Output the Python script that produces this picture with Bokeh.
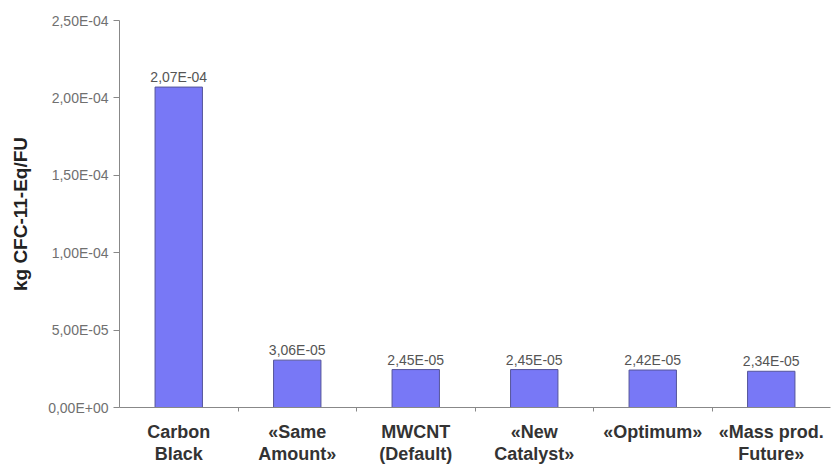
import numpy as np
from bokeh.plotting import figure
from bokeh.models import ColumnDataSource, Range1d, FixedTicker, LinearAxis
from bokeh.core.properties import value
from bokeh.embed import file_html
from bokeh.resources import INLINE

# ---- data ----
categories = ["Carbon\nBlack", "«Same\nAmount»", "MWCNT\n(Default)",
              "«New\nCatalyst»", "«Optimum»", "«Mass prod.\nFuture»"]
values = [2.07e-4, 3.06e-5, 2.45e-5, 2.45e-5, 2.42e-5, 2.34e-5]
y_ticks = [0.0, 5e-5, 1e-4, 1.5e-4, 2e-4, 2.5e-4]
y_label = "kg CFC-11-Eq/FU"


def fmt(v):
    return f"{v:.2E}".replace(".", ",")


FONT = "Liberation Sans"
xs = [i + 0.5 for i in range(len(categories))]
src = ColumnDataSource(dict(x=xs, top=values, label=[fmt(v) for v in values]))

p = figure(width=831, height=466, output_backend="svg", toolbar_location=None,
           x_range=Range1d(0, len(categories)), y_range=Range1d(0, y_ticks[-1]),
           min_border_left=119, min_border_right=1, min_border_top=20, min_border_bottom=58,
           x_axis_type=None, y_axis_type=None)
p.outline_line_color = None
p.background_fill_color = "white"
p.border_fill_color = "white"

p.vbar(x="x", top="top", width=0.4, source=src,
       fill_color="#7878F6", line_color="#55559A", line_width=1)
p.text(x="x", y="top", text="label", source=src, text_align="center",
       text_baseline="alphabetic", y_offset=-10,
       text_font=value(FONT), text_font_size="14px", text_color="#555555")

# y axis
yaxis = LinearAxis(ticker=FixedTicker(ticks=y_ticks, minor_ticks=[]))
yaxis.major_label_overrides = {t: fmt(t) for t in y_ticks}
yaxis.axis_label = y_label
yaxis.axis_label_text_font = FONT
yaxis.axis_label_text_font_style = "bold"
yaxis.axis_label_text_font_size = "19px"
yaxis.axis_label_text_color = "#222222"
yaxis.axis_label_standoff = 14
yaxis.major_label_text_font = FONT
yaxis.major_label_text_font_size = "14px"
yaxis.major_label_text_color = "#707070"
yaxis.major_label_standoff = 5
yaxis.axis_line_color = "#888888"
yaxis.major_tick_line_color = "#888888"
yaxis.major_tick_out = 6
yaxis.major_tick_in = 0
yaxis.minor_tick_line_color = None
p.add_layout(yaxis, "left")

# x axis
xaxis = LinearAxis(ticker=FixedTicker(ticks=xs, minor_ticks=list(range(1, len(categories)))))
xaxis.major_label_overrides = {x: c for x, c in zip(xs, categories)}
xaxis.major_label_text_font = FONT
xaxis.major_label_text_font_style = "bold"
xaxis.major_label_text_font_size = "18px"
xaxis.major_label_text_line_height = 1.1
xaxis.major_label_text_color = "#333333"
xaxis.major_label_standoff = 10
xaxis.major_tick_line_color = None
xaxis.major_tick_out = 0
xaxis.major_tick_in = 0
xaxis.minor_tick_line_color = "#888888"
xaxis.minor_tick_out = 4
xaxis.minor_tick_in = 0
xaxis.axis_line_color = "#888888"
p.add_layout(xaxis, "below")

p.xgrid.grid_line_color = None
p.ygrid.ticker = yaxis.ticker
p.ygrid.grid_line_color = "#999999"
p.ygrid.grid_line_width = 1

open("out.html", "w").write(file_html(p, INLINE))
